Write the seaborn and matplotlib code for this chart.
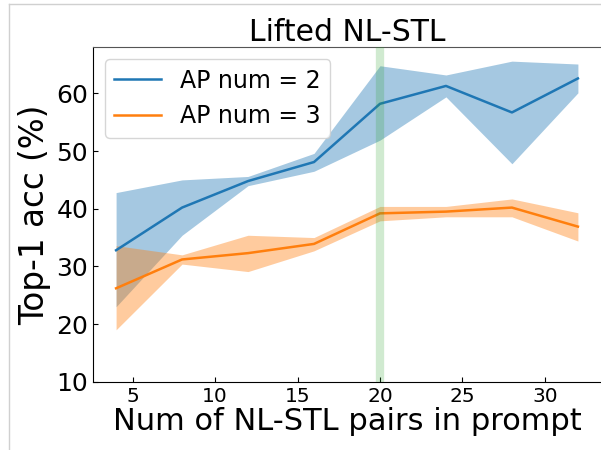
import numpy as np
import pandas as pd
import seaborn as sns
import matplotlib.pyplot as plt
from matplotlib.lines import Line2D

# number of NL-STL pairs in the prompt
n_pairs = [4, 8, 12, 16, 20, 24, 28, 32]

# AP num = 2
ap2_mean = [32.8, 40.2, 44.8, 48.1, 58.2, 61.3, 56.7, 62.6]
ap2_low = [23.0, 35.4, 44.0, 46.5, 51.9, 59.4, 47.8, 60.1]
ap2_high = [42.8, 45.0, 45.6, 49.6, 64.8, 63.2, 65.6, 65.1]

# AP num = 3
ap3_mean = [26.2, 31.2, 32.3, 33.9, 39.2, 39.5, 40.2, 36.9]
ap3_low = [19.0, 30.4, 29.1, 32.7, 37.9, 38.6, 38.6, 34.4]
ap3_high = [33.6, 32.0, 35.4, 35.0, 40.4, 40.4, 41.7, 39.3]

df = pd.DataFrame({
    "pairs": n_pairs * 2,
    "acc": ap2_mean + ap3_mean,
    "label": ["AP num = 2"] * len(n_pairs) + ["AP num = 3"] * len(n_pairs),
})

fig = plt.figure(figsize=(6.01, 4.5), dpi=100)
ax = fig.add_axes([93 / 601, 1 - 381.7 / 450, (601 - 93) / 601, (381.7 - 47.3) / 450])

colors = ["#1f77b4", "#ff7f0e"]
sns.lineplot(data=df, x="pairs", y="acc", hue="label", palette=colors,
             linewidth=1.8, ax=ax)

ax.fill_between(n_pairs, ap2_low, ap2_high, color=colors[0], alpha=0.4, linewidth=0)
ax.fill_between(n_pairs, ap3_low, ap3_high, color=colors[1], alpha=0.4, linewidth=0)

# marker for 20 pairs
ax.axvline(20, color="#2ca02c", alpha=0.22, linewidth=6, zorder=5)

ax.set_xlim(2.6, 33.4)
ax.set_ylim(10, 68)
ax.set_yticks([10, 20, 30, 40, 50, 60])
ax.tick_params(axis="x", direction="in", labelsize=14.5)
ax.tick_params(axis="y", direction="in", labelsize=18)
ax.set_xlabel("Num of NL-STL pairs in prompt", fontsize=22, labelpad=1)
ax.set_ylabel("Top-1 acc (%)", fontsize=23.5, labelpad=4)
ax.set_title("Lifted NL-STL", fontsize=21.5, pad=4)
ax.spines["top"].set_color("#555555")
ax.spines["right"].set_visible(False)

leg = ax.legend(loc="upper left", fontsize=17, title=None)

# light frame of the original page
fig.add_artist(Line2D([9 / 601, 9 / 601], [0, 1 - 4 / 450], color="#d0d0d0", lw=1))
fig.add_artist(Line2D([9 / 601, 1], [1 - 4 / 450, 1 - 4 / 450], color="#d0d0d0", lw=1))

fig.savefig("out.png", dpi=100)
